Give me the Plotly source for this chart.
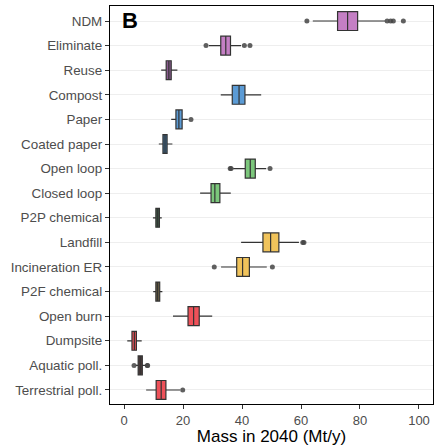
import plotly.graph_objects as go

categories = ['NDM', 'Eliminate', 'Reuse', 'Compost', 'Paper', 'Coated paper',
              'Open loop', 'Closed loop', 'P2P chemical', 'Landfill',
              'Incineration ER', 'P2F chemical', 'Open burn', 'Dumpsite',
              'Aquatic poll.', 'Terrestrial poll.']

lower_whisker = [64.0, 28.8, 12.6, 32.8, 16.0, 11.8, 37.0, 25.8, 9.8, 39.7,
                 32.9, 9.9, 16.6, 1.1, 4.0, 7.5]
q1 = [72.4, 32.8, 14.3, 36.7, 17.6, 13.2, 41.1, 29.5, 10.8, 47.1,
      38.2, 10.8, 21.7, 2.7, 4.8, 10.9]
median = [75.8, 34.5, 15.2, 39.0, 18.6, 13.9, 42.8, 30.8, 11.4, 49.7,
          40.2, 11.4, 23.6, 3.5, 5.5, 12.6]
q3 = [79.2, 36.1, 16.0, 41.0, 19.7, 14.6, 44.5, 32.5, 12.0, 52.5,
      42.5, 12.1, 25.5, 4.2, 6.2, 14.2]
upper_whisker = [88.6, 39.7, 18.1, 46.5, 21.6, 16.4, 48.2, 36.2, 12.8, 59.3,
                 48.4, 13.0, 29.9, 6.0, 7.5, 19.0]
outliers = [
    [62.0, 89.2, 90.4, 91.3, 94.7],
    [27.8, 40.8, 42.7],
    [],
    [],
    [22.7],
    [],
    [36.0, 36.3, 49.5],
    [],
    [],
    [60.6, 61.0],
    [30.6, 50.3],
    [],
    [],
    [],
    [3.4, 7.9, 8.0],
    [19.9],
]

box_colors = ['#c47fc4', '#c47fc4', '#8b5b8f', '#5b9bd5', '#5b9bd5', '#3f6e96',
              '#7cc77c', '#7cc77c', '#3f5f48', '#f0c35b',
              '#f0c35b', '#6e6244', '#ee5159', '#ee5159',
              '#4d3a3a', '#ee5159']

fig = go.Figure()

for i, cat in enumerate(categories):
    fig.add_trace(go.Box(
        y=[cat],
        q1=[q1[i]],
        median=[median[i]],
        q3=[q3[i]],
        lowerfence=[lower_whisker[i]],
        upperfence=[upper_whisker[i]],
        orientation='h',
        fillcolor=box_colors[i],
        line=dict(color='#333333', width=1.2),
        whiskerwidth=0,
        width=0.77,
        boxpoints=False,
        showlegend=False,
        hoverinfo='skip'
    ))
    if outliers[i]:
        fig.add_trace(go.Scatter(
            x=outliers[i],
            y=[cat] * len(outliers[i]),
            mode='markers',
            marker=dict(color='#444444', size=5, opacity=0.85),
            showlegend=False,
            hoverinfo='skip'
        ))

# panel label
fig.add_annotation(
    text='<b>B</b>',
    xref='paper', yref='paper',
    x=0.03, y=1.0,
    xanchor='left', yanchor='top',
    showarrow=False,
    font=dict(size=22, color='black', family='Liberation Sans')
)

fig.update_layout(
    width=436,
    height=446,
    margin=dict(l=110, r=3, t=6, b=42),
    paper_bgcolor='white',
    plot_bgcolor='white',
    font=dict(family='Liberation Sans', color='#4d4d4d'),
    xaxis=dict(
        range=[-4.75, 104.75],
        tickvals=[0, 20, 40, 60, 80, 100],
        ticks='outside',
        ticklen=4,
        tickcolor='#333333',
        tickfont=dict(size=13, color='#4d4d4d'),
        showgrid=False,
        zeroline=False,
        showline=True,
        linecolor='black',
        linewidth=1.2,
        mirror=True,
        automargin=False,
        title=dict(text='Mass in 2040 (Mt/y)', font=dict(size=17, color='black'),
                   standoff=2)
    ),
    yaxis=dict(
        type='category',
        categoryorder='array',
        categoryarray=categories,
        range=[15.57, -0.61],
        ticks='outside',
        ticklen=4,
        tickcolor='#333333',
        tickfont=dict(size=13.4, color='#4d4d4d'),
        showgrid=True,
        gridcolor='#eeeeee',
        gridwidth=1,
        zeroline=False,
        showline=True,
        linecolor='black',
        linewidth=1.2,
        mirror=True,
        automargin=False
    )
)

fig.write_html("out.html", config={'displayModeBar': False},
               post_script="document.body.style.margin='0px';")
